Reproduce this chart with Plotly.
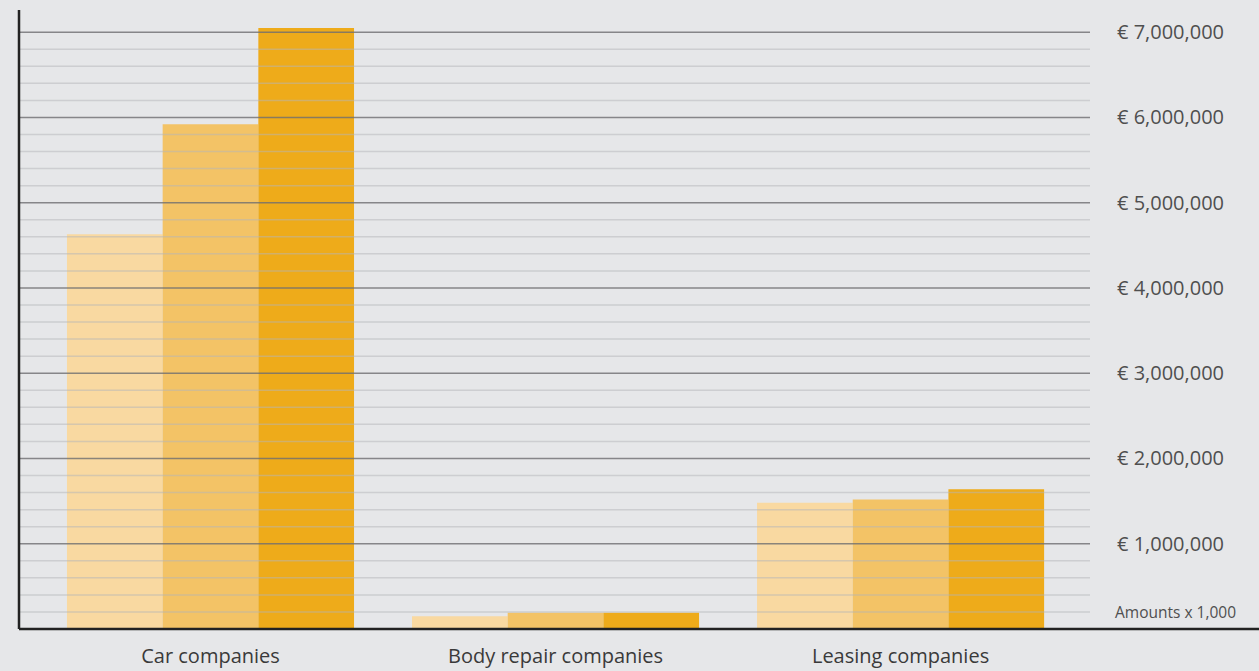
import plotly.graph_objects as go

categories = ["Car companies", "Body repair companies", "Leasing companies"]
series_a = [4630000, 150000, 1480000]
series_b = [5920000, 190000, 1520000]
series_c = [7050000, 190000, 1640000]
colors = ["#f9d9a1", "#f3c366", "#eeab1a"]
major_ticks = [1000000, 2000000, 3000000, 4000000, 5000000, 6000000, 7000000]
major_labels = ["€ 1,000,000", "€ 2,000,000", "€ 3,000,000", "€ 4,000,000",
                "€ 5,000,000", "€ 6,000,000", "€ 7,000,000"]
minor_step = 200000
grid_max = 7000000
y_max = 7260000

FONT = "Open Sans, Noto Sans, sans-serif"
BG = "#e6e7e9"

fig = go.Figure()
for vals, col, name in zip([series_a, series_b, series_c], colors, ["A", "B", "C"]):
    fig.add_trace(go.Bar(x=categories, y=vals, marker=dict(color=col, line=dict(width=0)),
                         name=name, showlegend=False))

shapes = []
v = minor_step
while v <= grid_max + 1:
    is_major = any(abs(v - m) < 1 for m in major_ticks)
    shapes.append(dict(type="line", xref="paper", x0=0, x1=1, yref="y", y0=v, y1=v,
                       layer="above",
                       line=dict(color="rgba(110,110,113,0.8)" if is_major else "rgba(180,181,185,0.5)",
                                 width=1.5)))
    v += minor_step
# axis lines
shapes.append(dict(type="line", xref="paper", x0=0, x1=1.16, yref="paper", y0=0, y1=0,
                   layer="above", line=dict(color="#222222", width=2.5)))
shapes.append(dict(type="line", xref="paper", x0=0, x1=0, yref="paper", y0=0, y1=1,
                   layer="above", line=dict(color="#222222", width=2.5)))

fig.update_layout(
    width=1259, height=671, autosize=False,
    margin=dict(l=19, r=169, t=10, b=42, pad=0),
    paper_bgcolor=BG, plot_bgcolor=BG,
    barmode="group", bargap=0.168, bargroupgap=0,
    font=dict(family=FONT, color="#3c3c3c"),
    shapes=shapes,
    xaxis=dict(type="category", range=[-0.555, 2.549], showgrid=False, showline=False,
               ticks="", tickfont=dict(size=20, color="#3a3a3a"), ticklabelstandoff=13,
               fixedrange=True, automargin=False),
    yaxis=dict(side="right", range=[0, y_max], tickvals=major_ticks, ticktext=major_labels,
               showgrid=False, zeroline=False, showline=False, ticks="",
               tickfont=dict(size=20, color="#4f4f4f"), ticklabelstandoff=26,
               fixedrange=True, automargin=False),
    annotations=[dict(text="Amounts x 1,000", xref="paper", x=1, xanchor="left", xshift=23,
                      yref="y", y=minor_step, yanchor="middle", showarrow=False,
                      font=dict(size=15.5, color="#4f4f4f", family=FONT))],
)

fig.write_html("out.html", config={"displayModeBar": False},
               post_script="document.body.style.margin='0';document.body.style.background='#e6e7e9';")
